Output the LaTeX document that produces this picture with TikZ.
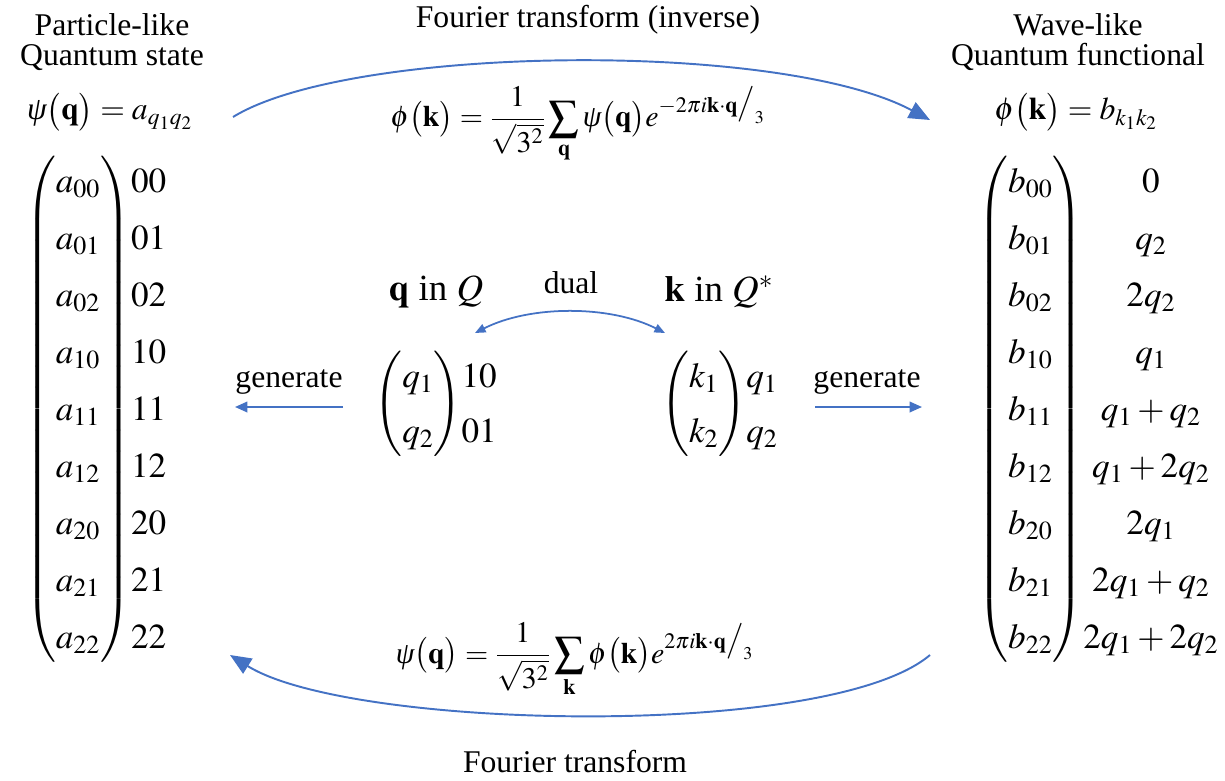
\documentclass[tikz,border=0pt]{standalone}
\usepackage{amsmath,amssymb}
\usepackage{mathptmx}
\usepackage{fontspec}
\setmainfont{Liberation Serif}
\usepackage{tikz}
\usetikzlibrary{arrows.meta}
\definecolor{ArrowBlue}{HTML}{4472C4}
\newcommand{\rowsep}[1]{\renewcommand{\arraystretch}{#1}}
\newcommand{\wpsi}{\textit{ψ}}
\tikzset{
    % Text styles
    headtext/.style={
        align=center,
        inner sep=0pt,
        font=\fontsize{18}{17.5}\selectfont
    },
    mathtext/.style={
        inner sep=0pt,
        font=\fontsize{18}{21}\selectfont
    },
    vecbox/.style={
        inner sep=0pt,
        font=\fontsize{20}{24}\selectfont
    },
    % Arrow styles
    bigarrow/.style={
        -{Triangle[length=12pt,width=10pt]},
        ArrowBlue,
        line width=1.1pt
    },
    smallarrow/.style={
        -{Triangle[length=7pt,width=6pt]},
        ArrowBlue,
        line width=1pt
    },
    dualarrow/.style={
        {Triangle[length=6pt,width=5pt]}-{Triangle[length=6pt,width=5pt]},
        ArrowBlue,
        line width=1pt
    }
}

\begin{document}
\begin{tikzpicture}[x=0.02cm,y=-0.02cm]
    \useasboundingbox (0,0) rectangle (1225,781);

    % Particle side
    \node[headtext] (particle) at (112,42) {Particle-like\\Quantum state};
    \node[mathtext] (psilabel) at (110,112) {$\wpsi\bigl(\mathbf{q}\bigr)=a_{q_1q_2}$};
    \node[vecbox] (psivec) at (100,409) {$\rowsep{1.35}\begin{pmatrix}
        a_{00}\\a_{01}\\a_{02}\\a_{10}\\a_{11}\\a_{12}\\a_{20}\\a_{21}\\a_{22}
        \end{pmatrix}\!\begin{array}{@{}l}00\\01\\02\\10\\11\\12\\20\\21\\22\end{array}$};

    % Wave side
    \node[headtext] (wave) at (1078,42) {Wave-like\\Quantum functional};
    \node[mathtext] (philabel) at (1076,112) {$\phi\bigl(\mathbf{k}\bigr)=b_{k_1k_2}$};
    \node[vecbox] (phivec) at (1098,409) {$\rowsep{1.35}\begin{pmatrix}
        b_{00}\\b_{01}\\b_{02}\\b_{10}\\b_{11}\\b_{12}\\b_{20}\\b_{21}\\b_{22}
        \end{pmatrix}\!\begin{array}{@{}c@{}}0\\q_2\\2q_2\\q_1\\q_1+q_2\\q_1+2q_2\\2q_1\\2q_1+q_2\\2q_1+2q_2\end{array}$};

    % Fourier transforms
    \node[headtext] (invtitle) at (588,20) {Fourier transform (inverse)};
    \node[mathtext,font=\fontsize{17}{20}\selectfont] (invform) at (578,125) {$\phi\bigl(\mathbf{k}\bigr)=\dfrac{1}{\sqrt{3^2}}\displaystyle\sum_{\mathbf{q}}\wpsi\bigl(\mathbf{q}\bigr)e^{-2\pi i\mathbf{k}\cdot\mathbf{q}\big/_{3}}$};
    \node[mathtext,font=\fontsize{17}{20}\selectfont] (fwdform) at (575,660) {$\wpsi\bigl(\mathbf{q}\bigr)=\dfrac{1}{\sqrt{3^2}}\displaystyle\sum_{\mathbf{k}}\phi\bigl(\mathbf{k}\bigr)e^{2\pi i\mathbf{k}\cdot\mathbf{q}\big/_{3}}$};
    \node[headtext] (fwdtitle) at (575,762) {Fourier transform};

    % Lattice and dual
    \node[vecbox,font=\fontsize{21}{24}\selectfont] (qtext) at (436,292) {$\mathbf{q}$ in $Q$};
    \node[vecbox,font=\fontsize{21}{24}\selectfont] (ktext) at (719,292) {$\mathbf{k}$ in $Q^{*}$};
    \node[headtext] (dual) at (571,283) {dual};
    \node[vecbox] (qvec) at (440,404) {$\rowsep{1.3}\begin{pmatrix}q_1\\q_2\end{pmatrix}\!\begin{array}{@{}l}10\\01\end{array}$};
    \node[vecbox] (kvec) at (724,404) {$\rowsep{1.3}\begin{pmatrix}k_1\\k_2\end{pmatrix}\!\begin{array}{@{}l}q_1\\q_2\end{array}$};

    % Generate labels
    \node[headtext] (genleft) at (289,382) {generate};
    \node[headtext] (genright) at (867,382) {generate};

    % Arrow ends
    \coordinate (invstart) at (233,117);
    \coordinate (invend) at (930,120);
    \coordinate (fwdstart) at (930,655);
    \coordinate (fwdend) at (230,655);
    \coordinate (dualq) at (475,333);
    \coordinate (dualk) at (665,333);
    \coordinate (genlstart) at (343,407);
    \coordinate (genlend) at (235,407);
    \coordinate (genrstart) at (815,407);
    \coordinate (genrend) at (922,407);

    \draw[bigarrow] (invstart) .. controls (350,45) and (780,40) .. (invend);
    \draw[bigarrow] (fwdstart) .. controls (830,740) and (350,730) .. (fwdend);
    \draw[dualarrow] (dualq) .. controls (530,305) and (610,305) .. (dualk);
    \draw[smallarrow] (genlstart) -- (genlend);
    \draw[smallarrow] (genrstart) -- (genrend);
\end{tikzpicture}
\end{document}
